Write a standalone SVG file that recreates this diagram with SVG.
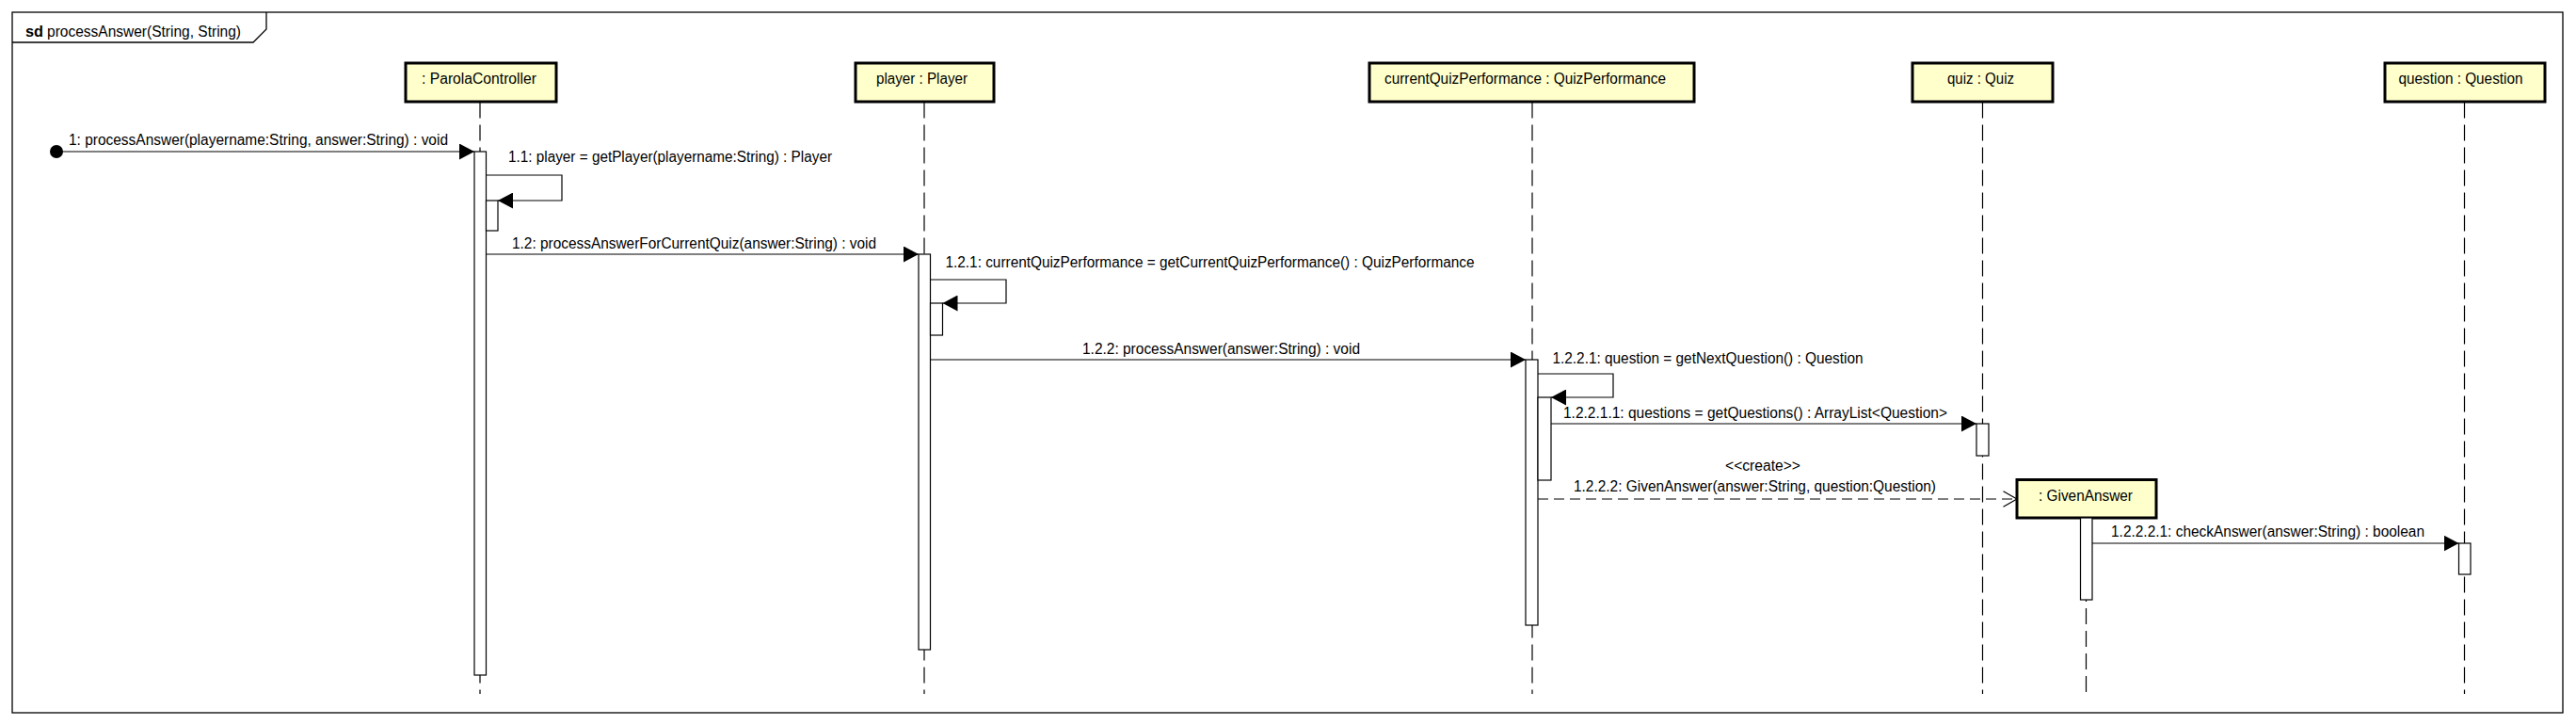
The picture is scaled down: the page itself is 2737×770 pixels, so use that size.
<svg xmlns="http://www.w3.org/2000/svg" width="2737" height="770" viewBox="0 0 2737 770">
<style>
text{font-family:"Liberation Sans",Arial,sans-serif;font-size:16px;fill:#000}
.box{fill:#ffffcc;stroke:#000;stroke-width:3}
.life{stroke:#000;stroke-width:1.2;stroke-dasharray:17 7;fill:none}
.act{fill:#fff;stroke:#000;stroke-width:1.2}
.msg{stroke:#000;stroke-width:1.2;fill:none}
.frame{stroke:#000;stroke-width:1.3;fill:none}
</style>
<defs>
<marker id="filled" markerUnits="userSpaceOnUse" viewBox="0 0 16 17" refX="16" refY="8.5" markerWidth="16" markerHeight="17" orient="auto">
<path d="M0,0 L16,8.5 L0,17 Z" fill="#000"/>
</marker>
<marker id="open" markerUnits="userSpaceOnUse" viewBox="-1 -1 17 19" refX="14.5" refY="8.3" markerWidth="17" markerHeight="19" orient="auto">
<path d="M0,0 L14.5,8.3 L0,16.6" fill="none" stroke="#000" stroke-width="1.2"/>
</marker>
</defs>

<g id="frame">
<rect class="frame" x="13" y="13" width="2710" height="744"/>
<path class="frame" d="M13,45 H269 L283,31 V13"/>
<text x="27" y="39" font-weight="bold" textLength="19" lengthAdjust="spacingAndGlyphs">sd</text>
<text x="50" y="39" textLength="206" lengthAdjust="spacingAndGlyphs">processAnswer(String, String)</text>
</g>

<g id="lifeline-parolacontroller">
<line class="life" x1="510" y1="108.5" x2="510" y2="737"/>
<rect class="box" x="431" y="67" width="160" height="41"/>
<text x="448" y="88.5" textLength="122" lengthAdjust="spacingAndGlyphs">: ParolaController</text>
<rect class="act" x="504" y="161" width="12.5" height="556"/>
<rect class="act" x="516.5" y="213" width="12.5" height="32"/>
</g>

<g id="lifeline-player">
<line class="life" x1="982" y1="108.5" x2="982" y2="737"/>
<rect class="box" x="909" y="67" width="147" height="41"/>
<text x="931" y="88.5" textLength="97" lengthAdjust="spacingAndGlyphs">player : Player</text>
<rect class="act" x="976" y="270" width="12.5" height="420"/>
<rect class="act" x="988.5" y="322" width="13" height="34"/>
</g>

<g id="lifeline-currentquizperformance">
<line class="life" x1="1628" y1="108.5" x2="1628" y2="737"/>
<rect class="box" x="1455" y="67" width="345" height="41"/>
<text x="1471" y="88.5" textLength="299" lengthAdjust="spacingAndGlyphs">currentQuizPerformance : QuizPerformance</text>
<rect class="act" x="1621" y="382" width="13" height="282"/>
<rect class="act" x="1634" y="422" width="14" height="88"/>
</g>

<g id="lifeline-quiz">
<line class="life" x1="2106.5" y1="108.5" x2="2106.5" y2="737"/>
<rect class="box" x="2032" y="67" width="149" height="41"/>
<text x="2069" y="88.5" textLength="71" lengthAdjust="spacingAndGlyphs">quiz : Quiz</text>
<rect class="act" x="2100" y="450" width="13" height="34"/>
</g>

<g id="lifeline-givenanswer">
<line class="life" x1="2216.5" y1="550" x2="2216.5" y2="737"/>
<rect class="box" x="2143" y="509.5" width="148" height="40.5"/>
<text x="2166" y="531.5" textLength="100" lengthAdjust="spacingAndGlyphs">: GivenAnswer</text>
<rect class="act" x="2210.5" y="550" width="12.5" height="87"/>
</g>

<g id="lifeline-question">
<line class="life" x1="2618.5" y1="108.5" x2="2618.5" y2="737"/>
<rect class="box" x="2534" y="67" width="170" height="41"/>
<text x="2548.5" y="88.5" textLength="132" lengthAdjust="spacingAndGlyphs">question : Question</text>
<rect class="act" x="2612.5" y="577" width="12.5" height="33"/>
</g>

<g id="connectors">
<circle cx="60" cy="161" r="7" fill="#000"/>
<line class="msg" x1="60" y1="161" x2="504" y2="161" marker-end="url(#filled)"/>
<text x="73" y="154" textLength="403" lengthAdjust="spacingAndGlyphs">1: processAnswer(playername:String, answer:String) : void</text>

<path class="msg" d="M516.5,186 H597 V213 H529" marker-end="url(#filled)"/>
<text x="540" y="172" textLength="344" lengthAdjust="spacingAndGlyphs">1.1: player = getPlayer(playername:String) : Player</text>

<line class="msg" x1="516.5" y1="270" x2="976" y2="270" marker-end="url(#filled)"/>
<text x="544" y="264" textLength="387" lengthAdjust="spacingAndGlyphs">1.2: processAnswerForCurrentQuiz(answer:String) : void</text>

<path class="msg" d="M988.5,297 H1069 V322 H1001.5" marker-end="url(#filled)"/>
<text x="1004.5" y="284" textLength="562" lengthAdjust="spacingAndGlyphs">1.2.1: currentQuizPerformance = getCurrentQuizPerformance() : QuizPerformance</text>

<line class="msg" x1="988.5" y1="382" x2="1621" y2="382" marker-end="url(#filled)"/>
<text x="1150" y="375.5" textLength="295" lengthAdjust="spacingAndGlyphs">1.2.2: processAnswer(answer:String) : void</text>

<path class="msg" d="M1634,397 H1714 V422 H1648" marker-end="url(#filled)"/>
<text x="1649.5" y="385.5" textLength="330" lengthAdjust="spacingAndGlyphs">1.2.2.1: question = getNextQuestion() : Question</text>

<line class="msg" x1="1648" y1="450" x2="2100" y2="450" marker-end="url(#filled)"/>
<text x="1661" y="444" textLength="408" lengthAdjust="spacingAndGlyphs">1.2.2.1.1: questions = getQuestions() : ArrayList&lt;Question&gt;</text>

<line class="msg" x1="1634" y1="530" x2="2143" y2="530" stroke-dasharray="11 6" marker-end="url(#open)"/>
<text x="1833" y="500" textLength="80" lengthAdjust="spacingAndGlyphs">&lt;&lt;create&gt;&gt;</text>
<text x="1672" y="522" textLength="385" lengthAdjust="spacingAndGlyphs">1.2.2.2: GivenAnswer(answer:String, question:Question)</text>

<line class="msg" x1="2223" y1="577" x2="2612.5" y2="577" marker-end="url(#filled)"/>
<text x="2243" y="570" textLength="333" lengthAdjust="spacingAndGlyphs">1.2.2.2.1: checkAnswer(answer:String) : boolean</text>
</g>
</svg>
